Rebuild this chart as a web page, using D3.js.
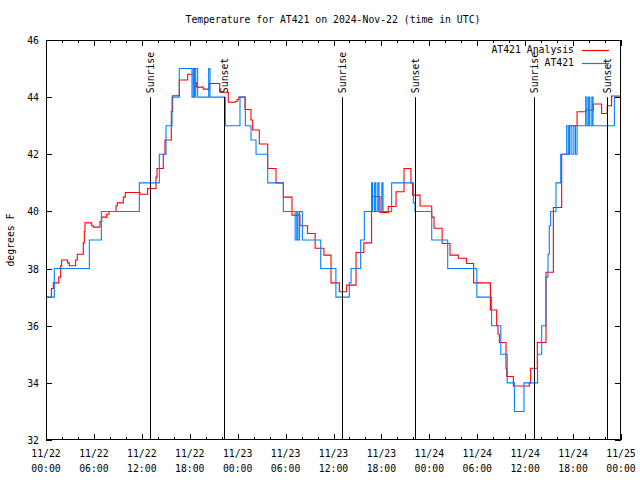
<!DOCTYPE html>
<html><head><meta charset="utf-8">
<script src="https://cdn.jsdelivr.net/npm/d3@7"></script>
<style>body{margin:0;background:#fff}svg{display:block}text{font-family:"DejaVu Sans Mono","Liberation Mono",monospace;font-size:9.8px;fill:#000}</style>
</head><body><svg id="c" width="640" height="480"></svg>
<script>
// hours since 11/22 00:00 UTC
const titleText = "Temperature for AT421 on 2024-Nov-22 (time in UTC)";
const yLabel = "degrees F";
const seriesNames = ["AT421 Analysis", "AT421"];
const seriesColors = ["#ff0000", "#0080ff"];
const yTicks = [32, 34, 36, 38, 40, 42, 44, 46];
const xTickHours = [0, 6, 12, 18, 24, 30, 36, 42, 48, 54, 60, 66, 72];
const xTickDates = ["11/22","11/22","11/22","11/22","11/23","11/23","11/23","11/23","11/24","11/24","11/24","11/24","11/25"];
const xTickTimes = ["00:00","06:00","12:00","18:00","00:00","06:00","12:00","18:00","00:00","06:00","12:00","18:00","00:00"];
const sunHours = [13.06, 22.33, 37.1, 46.25, 61.15, 70.29];
const sunLabels = ["Sunrise","Sunset","Sunrise","Sunset","Sunrise","Sunset"];
const sunLevel = 44;

const analysis = [
[0,37.0],[0.67,37.3],[0.92,37.5],[1.6,37.7],[1.84,38.1],[1.96,38.3],[2.71,38.2],[2.92,38.1],
[3.71,38.3],[3.92,38.5],[4.67,38.9],[4.8,39.3],[4.88,39.6],[5.72,39.5],[5.93,39.45],[6.76,39.65],
[6.97,39.8],[7.6,39.9],[7.89,40.0],[8.77,40.2],[8.93,40.3],[9.68,40.5],[9.93,40.66],[11.77,40.6],
[12.73,40.8],[13.77,41.2],[13.9,41.5],[14.69,42.0],[14.9,42.5],[15.69,43.5],[15.86,44.05],
[16.69,44.6],[17.74,44.8],[18.57,44.5],[18.86,44.35],[19.7,44.28],[20.45,44.48],[21.75,44.17],
[22.83,43.82],[23.7,43.85],[23.95,43.92],[24.15,44.0],[24.92,43.57],[25.67,43.2],[25.88,42.85],
[26.71,42.36],[27.76,41.5],[28.8,41.0],[29.72,40.5],[30.8,39.87],[31.8,39.5],[32.76,39.23],
[33.7,38.71],[34.8,38.47],[35.69,37.5],[36.73,37.19],[37.65,37.42],[38.82,38.56],[39.8,38.9],
[40.77,40.1],[40.9,40.52],[41.82,39.96],[42.86,40.17],[43.83,40.69],[44.83,41.5],[45.7,41.0],
[45.9,40.57],[46.84,40.19],[48.3,39.8],[48.59,39.41],[49.6,38.88],[50.59,38.47],[51.63,38.36],
[52.67,38.18],[53.55,37.5],[55.65,36.55],[56.43,36.0],[56.6,35.7],[56.77,35.41],[57.6,34.5],
[57.69,34.22],[58.52,33.89],[60.52,34.0],[60.69,34.51],[61.52,35.41],[62.61,37.87],[63.53,40.14],
[64.57,42.0],[65.53,43.0],[66.5,43.49],[67.6,43.55],[68.53,43.76],[69.57,43.43],[70.28,43.7],[70.82,44.04]
];

const observed = [
[0,37.0],[1.04,38.0],[5.43,39.0],[6.93,40.0],[11.69,41.0],[14.19,42.0],[15.03,43.0],[15.78,44.0],
[16.69,45.0],[18.28,44.0],[18.45,45.0],[18.6,44.0],[18.75,45.0],[18.99,44.0],[20.37,45.0],[20.54,44.0],
[22.45,43.0],[24.29,44.0],[24.96,43.0],[25.67,42.5],[26.3,42.0],[27.76,41.0],[29.72,40.0],[31.2,39.0],
[31.4,40.0],[31.55,39.0],[31.75,40.0],[32.1,39.0],[34.4,38.0],[36.3,37.0],[37.98,37.5],[38.2,38.0],
[39.4,39.0],[39.86,40.0],[40.77,41.0],[40.9,40.0],[41.15,41.0],[41.3,40.0],[41.55,41.0],[41.7,40.0],
[42.05,41.0],[42.2,40.0],[43.28,41.0],[46.0,40.3],[46.21,40.0],[48.3,39.0],
[50.3,38.0],[53.95,37.0],[55.8,36.0],[56.95,35.0],[57.75,34.0],[58.65,33.0],[59.85,34.0],[61.55,35.0],
[62.07,36.0],[62.6,37.7],[62.86,38.5],[63.02,39.5],[63.19,40.0],[63.86,41.0],[64.45,42.0],[65.2,43.0],
[65.4,42.0],[65.6,43.0],[65.85,42.0],[66.1,43.0],[66.3,42.0],[66.5,43.0],[67.58,44.0],[67.75,43.0],
[67.95,44.0],[68.1,43.0],[68.35,44.0],[68.5,43.0],[71.17,44.0]
];

const svg = d3.select("#c");
const L = 46, R = 621, T = 40, B = 440;
const x = d3.scaleLinear().domain([0, 72]).range([L, R]);
const y = d3.scaleLinear().domain([32, 46]).range([B, T]);

svg.append("defs").append("clipPath").attr("id","clip")
  .append("rect").attr("x",L).attr("y",T).attr("width",R-L).attr("height",B-T);

// data lines
const line = d3.line().x(d=>x(d[0])).y(d=>y(d[1])).curve(d3.curveStepAfter);
[analysis, observed].forEach((s,i)=>{
  const pts = s.concat([[72, s[s.length-1][1]]]);
  svg.append("path").attr("clip-path","url(#clip)").attr("d", line(pts))
    .attr("fill","none").attr("stroke", seriesColors[i]).attr("stroke-width",1.1);
});

// sunrise / sunset markers
sunHours.forEach((h,i)=>{
  const xx = Math.round(x(h))+0.5;
  svg.append("line").attr("x1",xx).attr("x2",xx).attr("y1",y(sunLevel)).attr("y2",B)
    .attr("stroke","#000").attr("stroke-width",1);
  svg.append("text").attr("transform",`translate(${xx+3.5},${y(sunLevel)-4}) rotate(-90)`)
    .attr("text-anchor","start").text(sunLabels[i]);
});

// frame
svg.append("rect").attr("x",L+0.5).attr("y",T+0.5).attr("width",R-L-1).attr("height",B-T-1)
  .attr("fill","none").attr("stroke","#000").attr("stroke-width",1);

// y ticks (both sides)
const gy = svg.append("g");
yTicks.forEach(v=>{
  const yy = Math.round(y(v))+0.5;
  gy.append("line").attr("x1",L).attr("x2",L+6).attr("y1",yy).attr("y2",yy).attr("stroke","#000");
  gy.append("line").attr("x1",R-6).attr("x2",R).attr("y1",yy).attr("y2",yy).attr("stroke","#000");
  gy.append("text").attr("x",L-7).attr("y",yy).attr("dy","0.35em").attr("text-anchor","end").text(v);
});

// x ticks: minor every 2h, major every 6h, top and bottom
const minor = d3.range(0, 73, 2);
minor.forEach(h=>{
  const xx = Math.round(x(h))+0.5;
  const len = (h % 6 === 0) ? 6 : 3;
  svg.append("line").attr("x1",xx).attr("x2",xx).attr("y1",B).attr("y2",B-len).attr("stroke","#000");
  svg.append("line").attr("x1",xx).attr("x2",xx).attr("y1",T).attr("y2",T+len).attr("stroke","#000");
});
xTickHours.forEach((h,i)=>{
  const t = svg.append("text").attr("x",x(h)).attr("text-anchor","middle");
  t.append("tspan").attr("x",x(h)).attr("y",457).text(xTickDates[i]);
  t.append("tspan").attr("x",x(h)).attr("y",472).text(xTickTimes[i]);
});

// title
svg.append("text").attr("x",333).attr("y",23).attr("text-anchor","middle").text(titleText);
// y label
svg.append("text").attr("transform","translate(14,240) rotate(-90)").attr("text-anchor","middle").text(yLabel);

// legend
seriesNames.forEach((n,i)=>{
  const yy = 50 + i*13;
  svg.append("text").attr("x",574).attr("y",yy).attr("dy","0.35em").attr("text-anchor","end").text(n);
  svg.append("line").attr("x1",582).attr("x2",609).attr("y1",yy+0.5).attr("y2",yy+0.5)
    .attr("stroke",seriesColors[i]).attr("stroke-width",1.2);
});
</script></body></html>
